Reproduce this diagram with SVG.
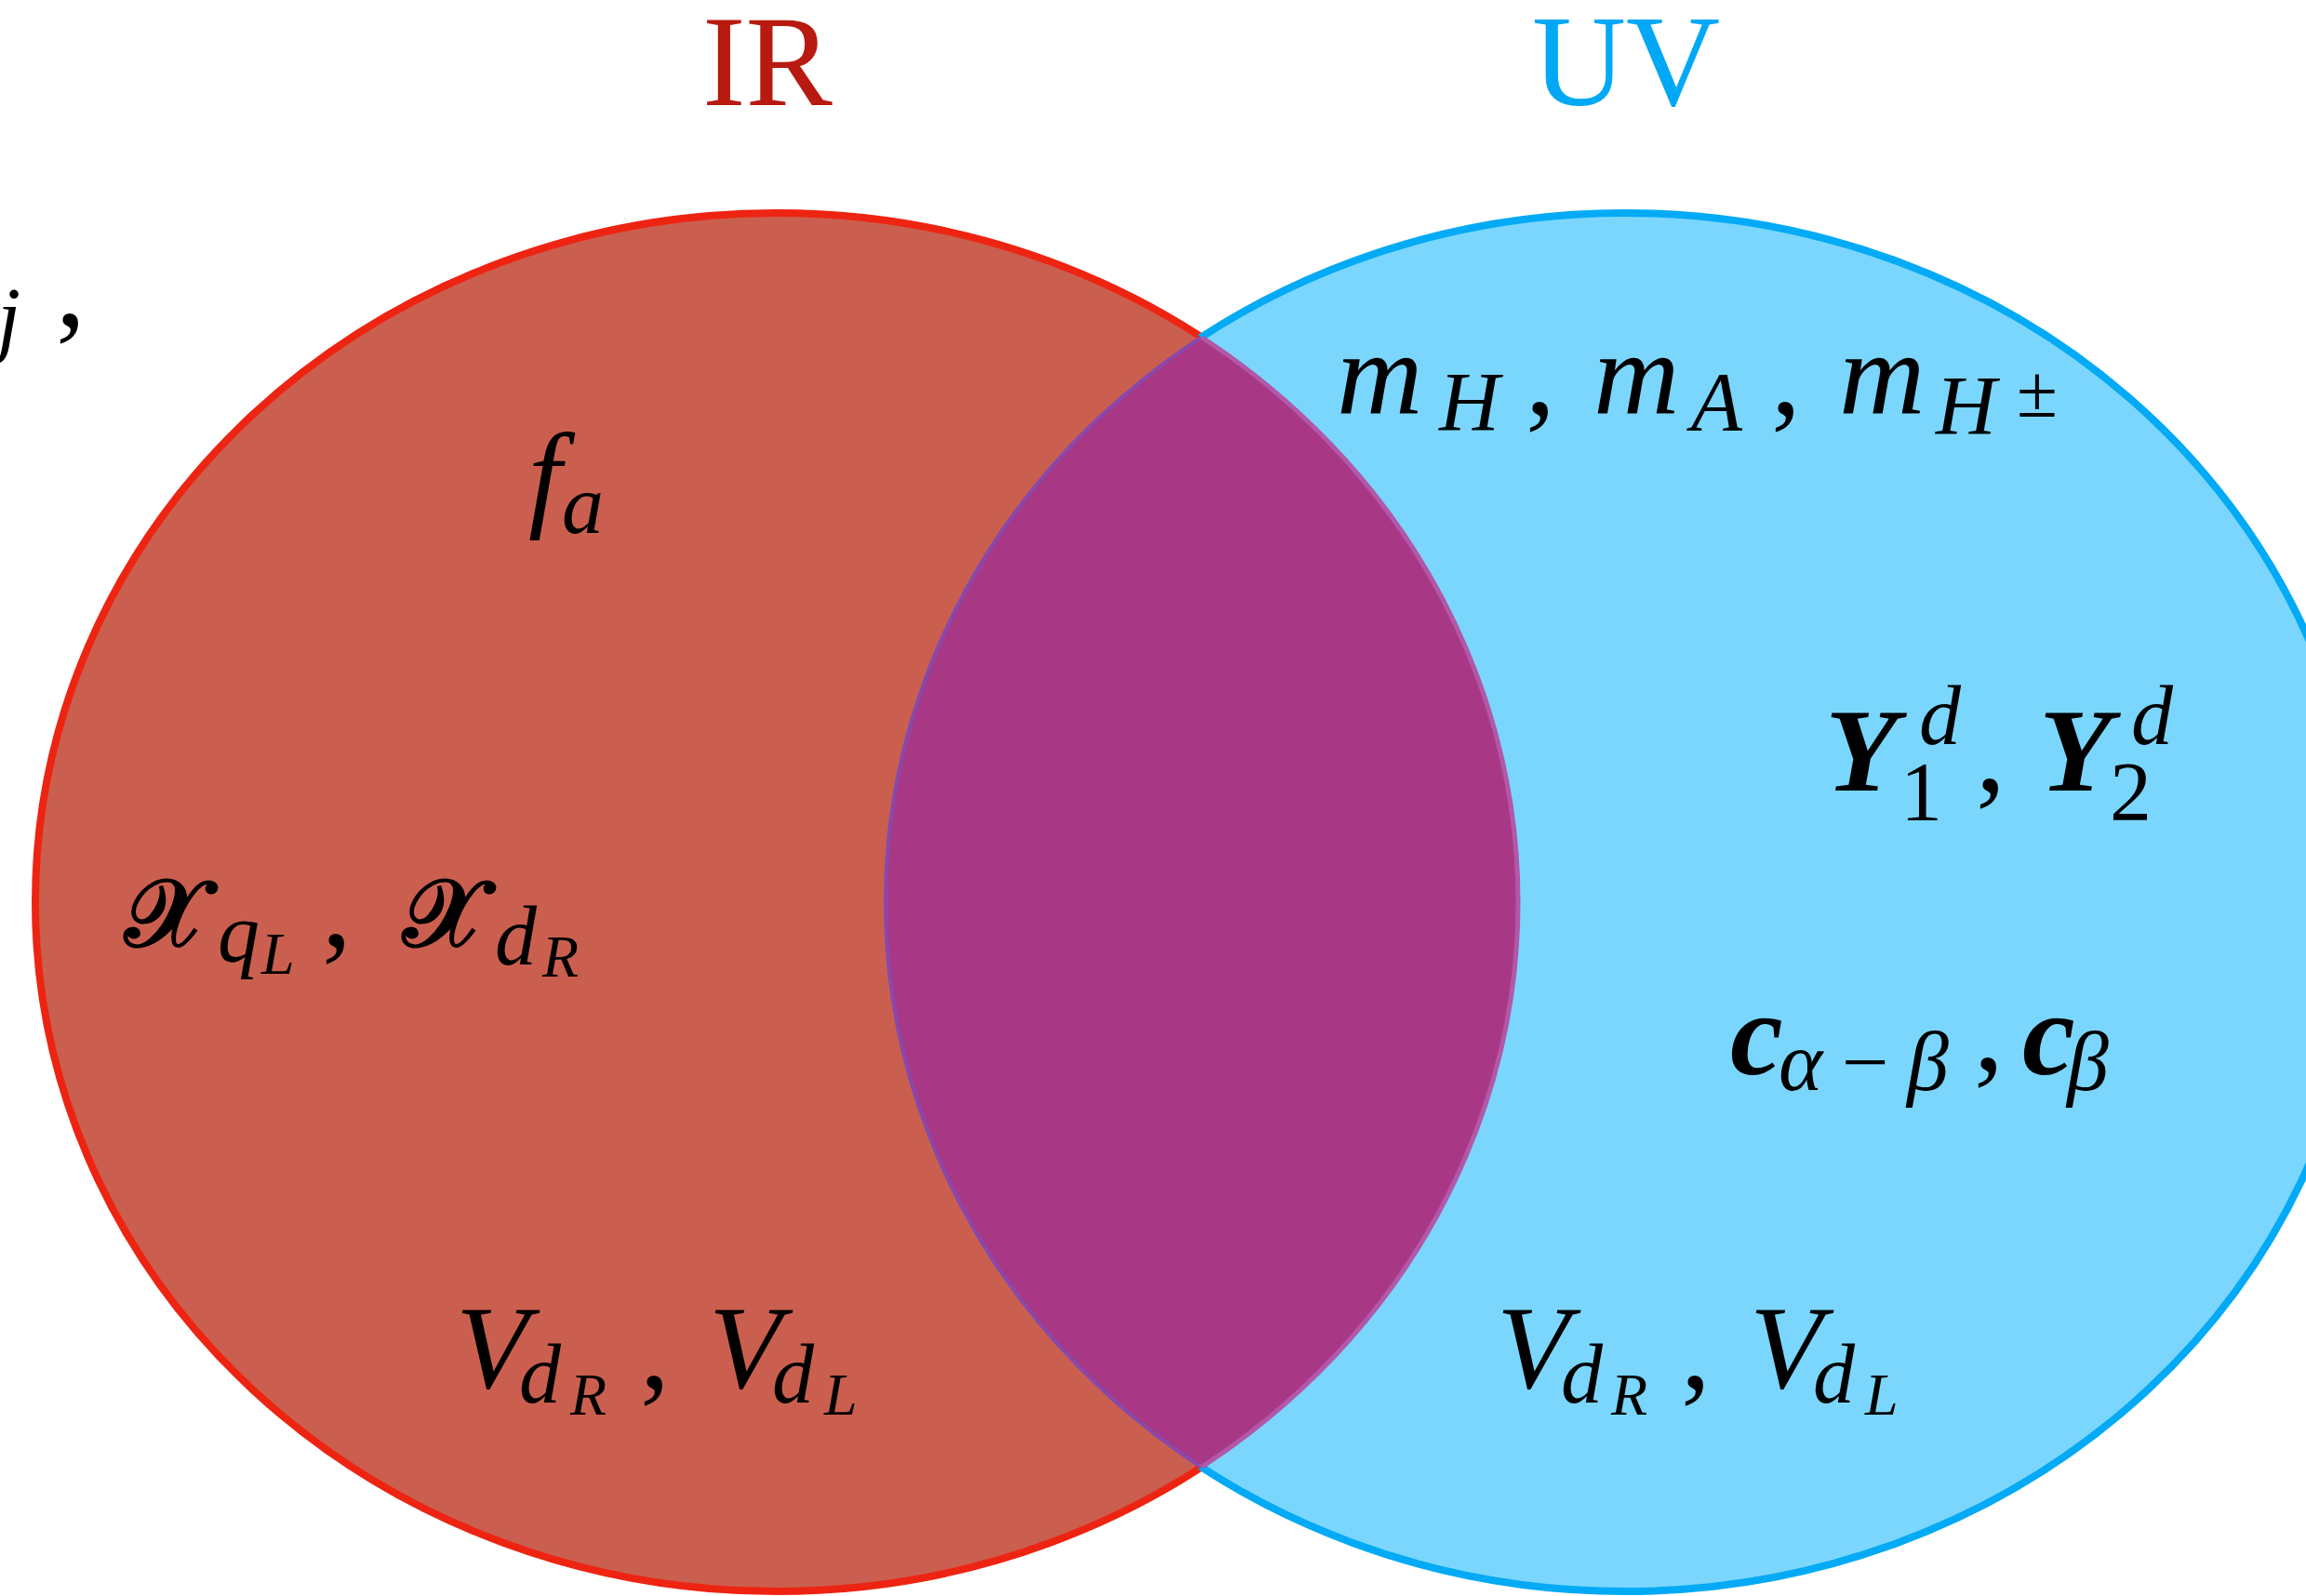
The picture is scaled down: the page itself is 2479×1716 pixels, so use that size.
<svg xmlns="http://www.w3.org/2000/svg" width="2479" height="1716" viewBox="0 0 2479 1716">
<style>
.title{font-family:"Liberation Serif","DejaVu Serif",serif;font-size:140px;text-anchor:middle}
.m{font-family:"Liberation Serif","DejaVu Serif",serif;font-style:italic;fill:#000}
.b{font-size:128px}
.s{font-size:90px}
.ss{font-size:64px}
.up{font-style:normal}
.cal{font-family:"DejaVu Serif","DejaVu Sans","Noto Sans",serif;font-style:normal;font-weight:bold;font-size:102px}
</style>
<defs>
<ellipse id="eL" cx="835" cy="970" rx="797" ry="741"/>
<ellipse id="eR" cx="1747" cy="970" rx="795" ry="741"/>
<clipPath id="clipL"><use href="#eL"/></clipPath>
<mask id="outR" maskUnits="userSpaceOnUse" x="-50" y="-50" width="2600" height="1820"><rect x="-50" y="-50" width="2600" height="1820" fill="#fff"/><use href="#eR" fill="#000"/></mask>
<mask id="outL" maskUnits="userSpaceOnUse" x="-50" y="-50" width="2600" height="1820"><rect x="-50" y="-50" width="2600" height="1820" fill="#fff"/><use href="#eL" fill="#000"/></mask>
<mask id="inR" maskUnits="userSpaceOnUse" x="-50" y="-50" width="2600" height="1820"><use href="#eR" fill="#fff"/></mask>
</defs>
<rect width="2479" height="1716" fill="#fff"/>

<g id="ir-set">
<use href="#eL" fill="#CB5F4F"/>
<g mask="url(#outR)" fill="none">
<use href="#eL" stroke="#EE2412" stroke-width="8"/>
<ellipse cx="835.5" cy="969.5" rx="798.5" ry="742.5" stroke="#EE2412" stroke-width="2" stroke-dasharray="300 25 140 20"/>
</g>
</g>

<g id="uv-set">
<use href="#eR" fill="#7BD6FE"/>
<g mask="url(#outL)" fill="none">
<use href="#eR" stroke="#03AAF5" stroke-width="8"/>
<ellipse cx="1746.5" cy="969.5" rx="796.5" ry="742.5" stroke="#03AAF5" stroke-width="2" stroke-dasharray="300 25 140 20"/>
</g>
</g>

<g id="overlap">
<use href="#eR" fill="#A83886" clip-path="url(#clipL)"/>
<use href="#eR" fill="none" stroke="#8848AC" stroke-width="4" clip-path="url(#clipL)"/>
<use href="#eL" fill="none" stroke="#B258A8" stroke-width="5" mask="url(#inR)"/>
</g>

<g id="title-ir"><text class="title" x="825" y="113" fill="#B81A10">IR</text></g>
<g id="title-uv"><text class="title" x="1748" y="113" fill="#00A8F5">UV</text></g>

<g id="label-cut">
<text class="m"><tspan class="s" x="-3" y="372">j</tspan><tspan class="b up" x="60" y="350">,</tspan></text>
</g>

<g id="label-fa">
<text class="m"><tspan class="b" x="568" y="554">f</tspan><tspan class="s" x="604" y="573">a</tspan></text>
</g>

<g id="label-chi">
<text class="m"><tspan class="cal" x="134" y="1017">𝒳</tspan><tspan class="s" x="234" y="1034">q</tspan><tspan class="ss" x="281" y="1047">L</tspan><tspan class="b up" x="346" y="1017">,</tspan><tspan class="cal" x="433" y="1017">𝒳</tspan><tspan class="s" x="532" y="1037">d</tspan><tspan class="ss" x="583" y="1050">R</tspan></text>
</g>

<g id="label-vir">
<text class="m"><tspan class="b" x="490" y="1492">V</tspan><tspan class="s" x="558" y="1508">d</tspan><tspan class="ss" x="613" y="1521">R</tspan><tspan class="b up" x="688" y="1492">,</tspan><tspan class="b" x="762" y="1492">V</tspan><tspan class="s" x="830" y="1508">d</tspan><tspan class="ss" x="886" y="1521">L</tspan></text>
</g>

<g id="label-masses">
<text class="m"><tspan class="b" x="1437" y="445">m</tspan><tspan class="s" x="1547" y="463">H</tspan><tspan class="b up" x="1640" y="445">,</tspan><tspan class="b" x="1713" y="445">m</tspan><tspan class="s" x="1818" y="463">A</tspan><tspan class="b up" x="1904" y="445">,</tspan><tspan class="b" x="1977" y="445">m</tspan><tspan class="s" x="2081" y="467">H</tspan><tspan class="up" font-size="80" x="2168" y="448">±</tspan></text>
</g>

<g id="label-yukawa">
<text class="m"><tspan class="b" x="1962" y="850" font-weight="bold">Y</tspan><tspan class="s" x="2063" y="800">d</tspan><tspan class="s up" x="2043" y="882">1</tspan><tspan class="b up" x="2124" y="850">,</tspan><tspan class="b" x="2192" y="850" font-weight="bold">Y</tspan><tspan class="s" x="2291" y="800">d</tspan><tspan class="s up" x="2268" y="882">2</tspan></text>
</g>

<g id="label-angles">
<text class="m"><tspan class="b" x="1860" y="1155" font-weight="bold">c</tspan><tspan class="s" x="1912" y="1172">α</tspan><tspan class="s up" x="1980" y="1172">−</tspan><tspan class="s" x="2050" y="1172">β</tspan><tspan class="b up" x="2122" y="1150">,</tspan><tspan class="b" x="2174" y="1155" font-weight="bold">c</tspan><tspan class="s" x="2222" y="1172">β</tspan></text>
</g>

<g id="label-vuv">
<text class="m"><tspan class="b" x="1609" y="1492">V</tspan><tspan class="s" x="1678" y="1508">d</tspan><tspan class="ss" x="1732" y="1521">R</tspan><tspan class="b up" x="1807" y="1492">,</tspan><tspan class="b" x="1881" y="1492">V</tspan><tspan class="s" x="1949" y="1508">d</tspan><tspan class="ss" x="2005" y="1521">L</tspan></text>
</g>
</svg>
